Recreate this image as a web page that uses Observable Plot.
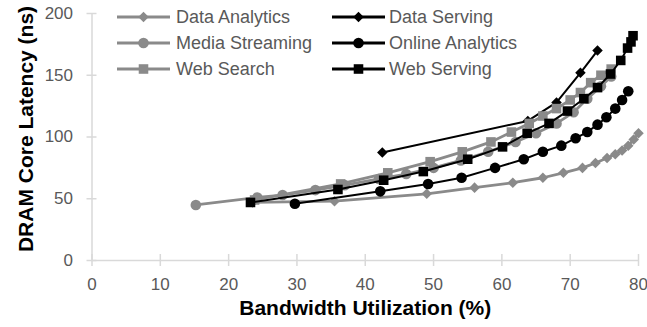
<!DOCTYPE html>
<html><head><meta charset="utf-8">
<script src="https://cdn.jsdelivr.net/npm/d3@7"></script>
<script src="https://cdn.jsdelivr.net/npm/@observablehq/plot@0.6"></script>
<style>
body{margin:0;background:#fff;}
#wrap{position:relative;width:647px;height:327px;font-family:"Liberation Sans",Arial,sans-serif;overflow:hidden;}
.leg{position:absolute;display:flex;align-items:center;font-size:18px;color:#595959;white-space:nowrap;line-height:20px;}
.leg svg{display:block;}
</style></head><body><div id="wrap"></div>
<script>
// ---- data ----
const seriesNames = ["Data Analytics","Data Serving","Media Streaming","Online Analytics","Web Search","Web Serving"];
const dataAnalyticsX = [23.5, 35.5, 49, 56, 61.6, 66, 69, 71.8, 73.7, 75.4, 76.6, 77.6, 78.5, 79.3, 80];
const dataAnalyticsY = [47, 48, 54, 59, 63, 67, 71, 75, 79, 83, 86, 89, 93, 98, 103];
const dataServingX = [42.5, 63.8, 68, 71.5, 74];
const dataServingY = [87.5, 113, 128, 152, 170];
const mediaStreamingX = [15.2, 24.2, 27.9, 32.7, 37, 42, 46, 50, 54, 58, 62, 65, 68, 70.5, 72.5, 74.5, 76];
const mediaStreamingY = [45, 51, 53, 57, 61, 66, 70, 75, 81, 88, 96, 103, 111, 120, 131, 141, 149];
const onlineAnalyticsX = [29.7, 42.2, 49.2, 54.1, 59, 63.2, 66, 68.7, 70.8, 72.5, 74, 75.3, 76.6, 77.6, 78.5];
const onlineAnalyticsY = [46, 56, 62, 67, 75, 82, 88, 93, 99, 104, 110, 116, 123, 130, 137];
const webSearchX = [23.8, 36.4, 43.3, 49.5, 54.2, 58.4, 61.4, 64, 66, 68, 70, 71.5, 73, 74.5, 76];
const webSearchY = [49, 62, 71, 80, 88, 96, 104, 111, 117, 123, 130, 136, 144, 150, 155];
const webServingX = [23.2, 36, 42.7, 48.5, 55, 60.1, 63.7, 66.9, 69.6, 72, 74, 75.9, 77.4, 78.4, 78.9, 79.2];
const webServingY = [47, 57.5, 65, 72, 82, 92, 103, 111, 121, 131, 140, 151, 162, 172, 177, 182];
const xTicks = [0, 10, 20, 30, 40, 50, 60, 70, 80];
const yTicks = [0, 50, 100, 150, 200];
const xTitle = "Bandwidth Utilization (%)";
const yTitle = "DRAM Core Latency (ns)";

// ---- styles ----
const GRAY = "#8a8a8a", BLACK = "#000000", AXIS = "#d9d9d9", LABEL = "#595959";
const diamondSym = {draw(ctx, size){ const r = Math.sqrt(size/2); ctx.moveTo(0,-r); ctx.lineTo(r,0); ctx.lineTo(0,r); ctx.lineTo(-r,0); ctx.closePath(); }};
const squareSym = {draw(ctx, size){ const h = Math.sqrt(size)/2; ctx.rect(-h,-h,2*h,2*h); }};
const circleSym = {draw(ctx, size){ const r = Math.sqrt(size/Math.PI); ctx.moveTo(r,0); ctx.arc(0,0,r,0,2*Math.PI); }};

const series = [
  {name: seriesNames[0], x: dataAnalyticsX, y: dataAnalyticsY, color: GRAY, sym: diamondSym, r: 4.2, sw: 2.8},
  {name: seriesNames[1], x: dataServingX, y: dataServingY, color: BLACK, sym: diamondSym, r: 4.2, sw: 2},
  {name: seriesNames[2], x: mediaStreamingX, y: mediaStreamingY, color: GRAY, sym: circleSym, r: 5.3, sw: 2.8},
  {name: seriesNames[3], x: onlineAnalyticsX, y: onlineAnalyticsY, color: BLACK, sym: circleSym, r: 5.3, sw: 2},
  {name: seriesNames[4], x: webSearchX, y: webSearchY, color: GRAY, sym: squareSym, r: 5.4, sw: 2.8},
  {name: seriesNames[5], x: webServingX, y: webServingY, color: BLACK, sym: squareSym, r: 5.4, sw: 2}
];

const marks = [
  Plot.ruleY([0], {stroke: AXIS, strokeWidth: 1.5}),
  Plot.ruleX([0], {stroke: AXIS, strokeWidth: 1.5}),
  Plot.ruleX(xTicks, {y1: 0, y2: 0, insetTop: -6, insetBottom: -6, stroke: AXIS, strokeWidth: 1.5}),
  Plot.ruleY(yTicks, {x1: 0, x2: 0, insetLeft: -5, insetRight: -5, stroke: AXIS, strokeWidth: 1.5}),
  Plot.axisX(xTicks, {tickSize: 0, tickPadding: 17, fontSize: 17, fill: LABEL, label: null}),
  Plot.axisY(yTicks, {tickSize: 0, tickPadding: 19, fontSize: 17, fill: LABEL, label: null}),
  Plot.text([xTitle], {text: d => d, frameAnchor: "bottom", lineAnchor: "middle", textAnchor: "middle", dy: 48, fontSize: 21, fontWeight: "bold", fill: BLACK}),
  Plot.text([yTitle], {text: d => d, frameAnchor: "left", lineAnchor: "middle", textAnchor: "middle", rotate: -90, dx: -66, dy: -8, fontSize: 21, fontWeight: "bold", fill: BLACK})
];
for (const s of series) {
  const rows = s.x.map((x, i) => ({x, y: s.y[i]}));
  marks.push(Plot.line(rows, {x: "x", y: "y", stroke: s.color, strokeWidth: s.sw}));
  marks.push(Plot.dot(rows, {x: "x", y: "y", symbol: s.sym, r: s.r, fill: s.color, stroke: "none"}));
}

const chart = Plot.plot({
  width: 647, height: 327,
  marginLeft: 91.5, marginRight: 9, marginTop: 13, marginBottom: 67,
  x: {domain: [0, 80]},
  y: {domain: [0, 200]},
  style: {fontFamily: "'Liberation Sans', Arial, sans-serif", background: "white", overflow: "visible"},
  marks
});
const wrap = document.getElementById("wrap");
wrap.appendChild(chart);

// ---- legend (overlay) ----
const legPos = [
  {left: 117, top: 17}, {left: 332, top: 17},
  {left: 117, top: 43}, {left: 332, top: 43},
  {left: 117, top: 69}, {left: 332, top: 69}
];
series.forEach((s, i) => {
  const p = legPos[i];
  const div = document.createElement("div");
  div.className = "leg";
  div.style.left = p.left + "px";
  div.style.top = (p.top - 10) + "px";
  const svg = d3.create("svg").attr("width", 53).attr("height", 20);
  svg.append("line").attr("x1", 0).attr("x2", 53).attr("y1", 10).attr("y2", 10)
    .attr("stroke", s.color).attr("stroke-width", 3);
  const sz = Math.PI * s.r * s.r;
  const path = d3.path(); s.sym.draw(path, sz);
  svg.append("path").attr("d", path.toString()).attr("transform", "translate(26.5,10)").attr("fill", s.color);
  div.appendChild(svg.node());
  const t = document.createElement("span");
  t.textContent = s.name;
  t.style.marginLeft = (i % 2 === 0 ? 6 : 4) + "px";
  div.appendChild(t);
  wrap.appendChild(div);
});
</script>
</body></html>
